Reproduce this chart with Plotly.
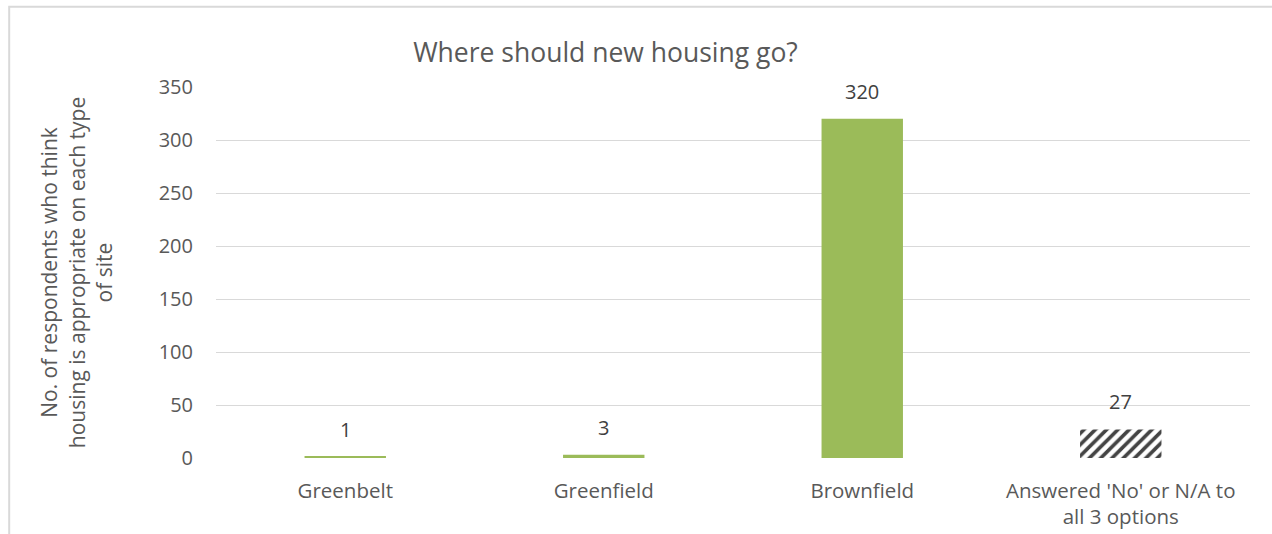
import plotly.graph_objects as go

categories = ["Greenbelt", "Greenfield", "Brownfield", "Answered 'No' or N/A to<br>all 3 options"]
values = [1, 3, 320, 27]
bar_colors = ["#9BBB59", "#9BBB59", "#9BBB59", "#ffffff"]
pattern_shapes = ["", "", "", "/"]
y_ticks = [0, 50, 100, 150, 200, 250, 300, 350]

FONT = "Open Sans"

fig = go.Figure()
fig.add_trace(go.Bar(
    x=categories,
    y=values,
    marker=dict(
        color=bar_colors,
        line=dict(width=0),
        pattern=dict(shape=pattern_shapes, fgcolor="#000000", fgopacity=1,
                     size=8, solidity=0.45, fillmode="overlay"),
    ),
    showlegend=False,
    hoverinfo="x+y",
))

# value labels above each bar
for cat, val in zip(categories, values):
    fig.add_annotation(
        x=cat, y=val, text=str(val), showarrow=False,
        yanchor="bottom", yshift=12,
        font=dict(family=FONT, size=20, color="#404040"),
    )

# outer chart border
fig.add_shape(
    type="rect", xref="paper", yref="paper",
    x0=-0.2, x1=1.2, y0=-0.4, y1=1.216,
    line=dict(color="#d9d9d9", width=2), fillcolor="rgba(0,0,0,0)", layer="below",
)

fig.update_layout(
    width=1272, height=534,
    margin=dict(l=216, r=22, t=87, b=76),
    paper_bgcolor="#ffffff",
    plot_bgcolor="#ffffff",
    bargap=0.685,
    title=dict(
        text="Where should new housing go?",
        x=0.476, xanchor="center", y=0.902, yanchor="middle",
        font=dict(family=FONT, size=26.5, color="#595959"),
    ),
    font=dict(family=FONT, color="#595959"),
    xaxis=dict(
        showgrid=False, showline=False, zeroline=False, ticks="",
        tickfont=dict(family=FONT, size=20.5, color="#595959"),
        ticklabelstandoff=18, automargin=False,
    ),
    yaxis=dict(
        range=[0, 350], tickvals=y_ticks,
        showgrid=True, gridcolor="#d9d9d9", gridwidth=1,
        zeroline=False, showline=False, ticks="",
        tickfont=dict(family=FONT, size=20, color="#595959"),
        ticklabelstandoff=22, automargin=False,
        title=dict(
            text="No. of respondents who think<br>housing is appropriate on each type<br>of site",
            font=dict(family=FONT, size=21, color="#595959"),
            standoff=40,
        ),
    ),
)

fig.write_html("out.html")
